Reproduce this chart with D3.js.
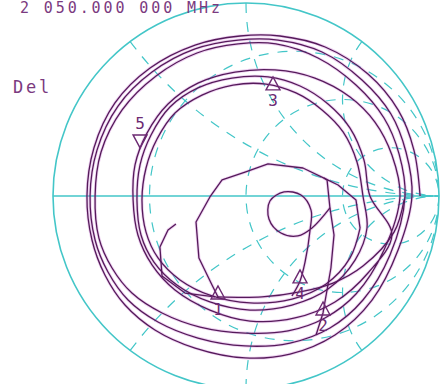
<!DOCTYPE html>
<html>
<head>
<meta charset="utf-8">
<script src="https://cdn.jsdelivr.net/npm/d3@7"></script>
<style>
  html, body { margin: 0; padding: 0; background: #ffffff; }
  svg { display: block; }
</style>
</head>
<body>
<svg id="chart" width="446" height="384"></svg>
<script>
// Annotation texts
const startFreqLabel = "2 050.000 000 MHz";
const formatLabel = "Del";

// Smith chart grid: constant-resistance circles and constant-reactance arcs
const resistanceCircles = [1 / 3, 1, 3];
const reactanceArcs = [0.5, 1, 2, -0.5, -1, -2];

// Reflection coefficient trace [Re, Im], outer three turns of the spiral
const spiralOuter = [
  [0.902, 0], [0.870, 0.238], [0.788, 0.446], [0.632, 0.632], [0.410, 0.772], [0.176, 0.829],
  [-0.031, 0.829], [-0.264, 0.782], [-0.497, 0.663], [-0.679, 0.482], [-0.788, 0.249], [-0.824, 0],
  [-0.798, -0.228], [-0.731, -0.409], [-0.627, -0.565], [-0.472, -0.694], [-0.264, -0.788], [-0.005, -0.839],
  [0.228, -0.819], [0.461, -0.720], [0.653, -0.539], [0.788, -0.280],
  [0.860, 0], [0.829, 0.228], [0.751, 0.425], [0.601, 0.601], [0.394, 0.746], [0.166, 0.808],
  [-0.041, 0.808], [-0.264, 0.762], [-0.487, 0.642], [-0.663, 0.466], [-0.772, 0.238], [-0.808, 0],
  [-0.782, -0.228], [-0.715, -0.394], [-0.611, -0.539], [-0.456, -0.653], [-0.249, -0.736], [-0.005, -0.777],
  [0.228, -0.762], [0.435, -0.684], [0.606, -0.539], [0.746, -0.306],
  [0.824, 0], [0.793, 0.218], [0.715, 0.404], [0.570, 0.575], [0.373, 0.715], [0.155, 0.788],
  [-0.041, 0.788], [-0.254, 0.741], [-0.466, 0.622], [-0.642, 0.446], [-0.751, 0.228], [-0.782, 0],
  [-0.762, -0.218], [-0.694, -0.373], [-0.591, -0.503], [-0.435, -0.606], [-0.238, -0.679], [-0.005, -0.710],
  [0.218, -0.699], [0.409, -0.632], [0.570, -0.508], [0.715, -0.280]
];

// Inner three turns
const spiralInner = [
  [0.798, 0], [0.756, 0.212], [0.668, 0.383], [0.539, 0.513], [0.357, 0.611], [0.150, 0.653],
  [-0.057, 0.642], [-0.249, 0.585], [-0.404, 0.477], [-0.513, 0.326], [-0.575, 0.161], [-0.585, -0.021],
  [-0.560, -0.202], [-0.487, -0.357], [-0.368, -0.487], [-0.187, -0.591], [0.021, -0.648], [0.254, -0.632],
  [0.461, -0.549], [0.632, -0.399], [0.756, -0.202],
  [0.642, 0], [0.611, 0.187], [0.539, 0.352], [0.425, 0.477], [0.280, 0.570], [0.114, 0.617],
  [-0.073, 0.611], [-0.249, 0.560], [-0.394, 0.461], [-0.492, 0.316], [-0.549, 0.161], [-0.565, -0.021],
  [-0.544, -0.202], [-0.477, -0.342], [-0.358, -0.461], [-0.187, -0.549], [0.021, -0.591], [0.238, -0.565],
  [0.425, -0.482], [0.565, -0.332], [0.627, -0.166],
  [0.606, 0], [0.575, 0.176], [0.503, 0.332], [0.394, 0.446], [0.259, 0.534], [0.104, 0.580],
  [-0.067, 0.575], [-0.228, 0.523], [-0.368, 0.430], [-0.461, 0.295], [-0.518, 0.145], [-0.539, -0.021],
  [-0.518, -0.187], [-0.456, -0.321], [-0.342, -0.435], [-0.176, -0.518], [0.021, -0.554], [0.238, -0.534],
  [0.415, -0.456], [0.539, -0.321], [0.591, -0.166]
];

// Coarse core of the trace (few points per turn, drawn point to point)
const corePolygon = [
  [0.591, -0.166], [0.570, -0.021], [0.477, 0.057], [0.404, 0.093], [0.295, 0.145], [0.114, 0.166],
  [-0.005, 0.124], [-0.124, 0.083], [-0.187, -0.005], [-0.259, -0.135], [-0.244, -0.321],
  [-0.176, -0.461], [-0.145, -0.523]
];
const coreTail = [
  [-0.145, -0.523], [0.083, -0.523], [0.280, -0.497], [0.451, -0.451], [0.606, -0.363],
  [0.767, -0.187], [0.819, -0.021]
];
const coreBranch = [
  [0.404, 0.093], [0.420, 0.083], [0.435, -0.062], [0.456, -0.202], [0.440, -0.373], [0.399, -0.606], [0.363, -0.720]
];
const coreLoop = [
  [0.435, -0.062], [0.342, -0.166], [0.269, -0.207], [0.181, -0.192], [0.119, -0.119], [0.124, -0.026],
  [0.197, 0.021], [0.285, 0.005], [0.337, -0.073], [0.332, -0.176], [0.306, -0.342], [0.280, -0.440], [0.238, -0.518]
];
const coreHook = [
  [-0.363, -0.145], [-0.404, -0.176], [-0.446, -0.264], [-0.435, -0.415], [-0.316, -0.503], [-0.161, -0.523]
];

// Markers
const markerIds = ["1", "2", "3", "4", "5"];
const markerRe = [-0.145, 0.399, 0.140, 0.280, -0.549];
const markerIm = [-0.523, -0.606, 0.560, -0.440, 0.249];
const markerPointsDown = [false, false, false, false, true];

// ---------------------------------------------------------------
const svg = d3.select("#chart");
const cx = 246, cy = 196, R = 193;
const sx = d3.scaleLinear().domain([-1, 1]).range([cx - R, cx + R]);
const sy = d3.scaleLinear().domain([-1, 1]).range([cy + R, cy - R]);
const rpx = v => sx(v) - sx(0);

const gridColor = "#43c6c8";
const traceColor = "#551a5a";
const textColor = "#7b3a80";

svg.append("defs").append("clipPath").attr("id", "unit")
  .append("circle").attr("cx", sx(0)).attr("cy", sy(0)).attr("r", rpx(1));

const grid = svg.append("g").attr("clip-path", "url(#unit)")
  .attr("fill", "none").attr("stroke", gridColor).attr("stroke-width", 1.2)
  .attr("stroke-dasharray", "10,9");

grid.selectAll("circle.r").data(resistanceCircles).join("circle")
  .attr("class", "r")
  .attr("cx", r => sx(r / (1 + r)))
  .attr("cy", sy(0))
  .attr("r", r => rpx(1 / (1 + r)));

grid.selectAll("path.x").data(reactanceArcs).join("path")
  .attr("class", "x")
  .attr("d", x => {
    const rimRe = (x * x - 1) / (x * x + 1);
    const rimIm = 2 * x / (x * x + 1);
    const rad = rpx(1 / Math.abs(x));
    const sweep = x > 0 ? 0 : 1;
    return `M${sx(rimRe)},${sy(rimIm)} A${rad},${rad} 0 0 ${sweep} ${sx(1)},${sy(0)}`;
  });

// real axis and outer boundary
svg.append("line")
  .attr("x1", sx(-1)).attr("x2", sx(1)).attr("y1", sy(0)).attr("y2", sy(0))
  .attr("stroke", gridColor).attr("stroke-width", 1.5);
svg.append("circle")
  .attr("cx", sx(0)).attr("cy", sy(0)).attr("r", rpx(1))
  .attr("fill", "none").attr("stroke", gridColor).attr("stroke-width", 1.6);

// trace
const smooth = d3.line().x(d => sx(d[0])).y(d => sy(d[1])).curve(d3.curveCatmullRom.alpha(0.5));
const straight = d3.line().x(d => sx(d[0])).y(d => sy(d[1]));
const spiral = spiralOuter.concat(spiralInner);
const pieces = [
  [spiral, smooth], [corePolygon, straight], [coreTail, smooth],
  [coreBranch, straight], [coreLoop, smooth], [coreHook, straight]
];
const traceG = svg.append("g").attr("fill", "none");
pieces.forEach(([pts, gen]) => {
  traceG.append("path").attr("d", gen(pts))
    .attr("stroke", "#c86ad0").attr("stroke-opacity", 0.3).attr("stroke-width", 3);
});
pieces.forEach(([pts, gen]) => {
  traceG.append("path").attr("d", gen(pts))
    .attr("stroke", traceColor).attr("stroke-width", 1.3).attr("stroke-linejoin", "round");
});

// markers
const mk = svg.append("g");
markerIds.forEach((id, i) => {
  const x = sx(markerRe[i]), y = sy(markerIm[i]);
  let tri, ty;
  if (markerPointsDown[i]) {
    tri = `M${x},${y} L${x - 7},${y - 13} L${x + 7},${y - 13} Z`;
    ty = y - 19;
  } else {
    tri = `M${x},${y - 11} L${x - 7},${y + 2} L${x + 7},${y + 2} Z`;
    ty = y + 18;
  }
  mk.append("path").attr("d", tri).attr("fill", "none")
    .attr("stroke", "#6c2a72").attr("stroke-width", 1.4);
  mk.append("text").attr("x", x).attr("y", ty)
    .attr("text-anchor", "middle")
    .attr("font-family", "DejaVu Sans Mono, monospace").attr("font-size", 16)
    .attr("fill", "#6c2a72").text(id);
});

// annotations
svg.append("text").attr("x", 20).attr("y", 13)
  .attr("font-family", "DejaVu Sans Mono, monospace").attr("font-size", 15)
  .attr("letter-spacing", "2.9px").attr("fill", textColor).text(startFreqLabel);
svg.append("text").attr("x", 13).attr("y", 93)
  .attr("font-family", "DejaVu Sans Mono, monospace").attr("font-size", 17)
  .attr("letter-spacing", "2.8px").attr("fill", textColor).text(formatLabel);
</script>
</body>
</html>
